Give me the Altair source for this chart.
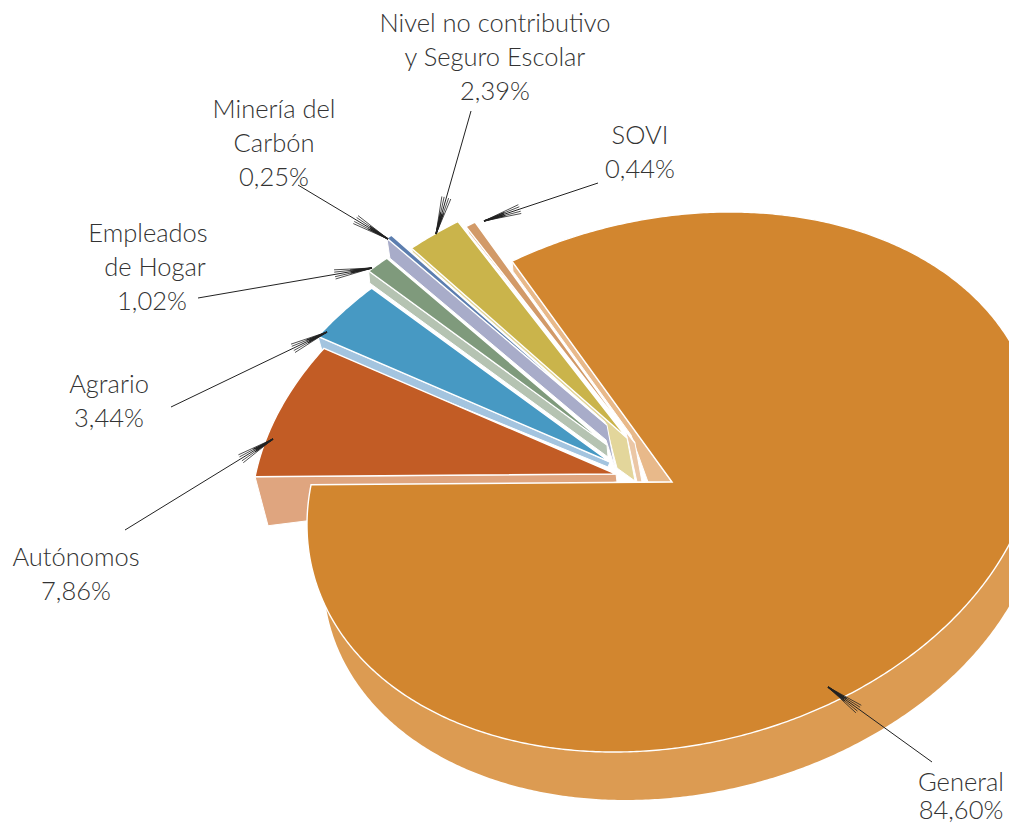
import math
import altair as alt

# ---- data ----
names = ["General", "Autónomos", "Agrario", "Empleados de Hogar", "Minería del Carbón",
         "Nivel no contributivo y Seguro Escolar", "SOVI"]
shares = [84.60, 7.86, 3.44, 1.02, 0.25, 2.39, 0.44]
label_lines = [["General"], ["Autónomos"], ["Agrario"], ["Empleados", "de Hogar"], ["Minería del", "Carbón"],
               ["Nivel no contributivo", "y Seguro Escolar"], ["SOVI"]]
top_colors = ["#D2862F", "#C25C25", "#4799C3", "#7F9A7C", "#5C7EAF", "#CAB44B", "#D29A68"]
side_colors = ["#E8B98A", "#DFA57F", "#A3C4DF", "#B5C3B2", "#A8ACC9", "#E3D69B", "#EBC7A6"]
body_color = "#DC9B52"

# ---- drawing geometry (page pixels; the page margin is removed below) ----
MARGIN = 8
AX, AY, BY = 365.0, -42.9, 266.6       # tilted-ellipse axes
START = 244.0 - 360.0                  # angle where "General" starts
apex = [(672, 482), (616, 474), (610, 462), (607, 445), (607, 425), (627, 438), (635, 443)]
rim_drop = [(1, 10), (13, 49), (4, 14), (1, 12), (3, 20), (1, 4), (3, 7)]
inner = [[(648, 482), (631, 435)], [(617, 482)], [(608, 467)], [(608, 457)],
         [(615, 468), (606, 440)], [(635, 481), (617, 468), (605, 422)],
         [(642, 482), (637, 482), (625, 428)]]
body_center, body_scale = (683, 534), 0.985
body_arc = (-30, 185)
body_inner = (700, 600)

label_pos = [[(961, 783), (961, 811)], [(76, 558), (76, 592)], [(109, 385), (109, 419)],
             [(148, 234), (155, 268), (152, 302)], [(274, 110), (274, 144), (274, 178)],
             [(495, 24), (495, 58), (495, 92)], [(640, 136), (640, 170)]]
arrow_tail = [(932, 762), (125, 530), (171, 407), (198, 298), (298, 185), (471, 111), (598, 183)]
arrow_tip = [(828, 687), (273, 439), (327, 332), (372, 268), (388, 239), (436, 234), (484, 221)]
# feathered arrow heads: (angle, length, width) of each stroke from the tip
BARBS = [(-7, 38, 0.8), (-3.5, 38, 0.8), (3.5, 38, 0.8), (7, 38, 0.8),
         (-4, 22, 1.3), (0, 20, 1.6), (4, 22, 1.3)]


def px(p):
    return [round(p[0] - MARGIN, 2), round(p[1] - MARGIN, 2)]


def ell(t, c, s=1.0):
    r = math.radians(t)
    u, v = math.cos(r), math.sin(r)
    return (c[0] + s * AX * u, c[1] + s * (AY * u + BY * v))


def arc(t0, t1, c, s=1.0):
    n = max(2, int(abs(t1 - t0) * 2))
    return [ell(t0 + (t1 - t0) * i / n, c, s) for i in range(n + 1)]


def feature(pts, fill, sw=1.2):
    ring = [px(p) for p in pts]
    ring.append(ring[0])
    return {"type": "Feature", "geometry": {"type": "Polygon", "coordinates": [ring]},
            "properties": {"fill": fill, "sw": sw}}


# angular ranges
ranges, t = [], START
for v in shares:
    ranges.append((t, t + v * 3.6))
    t += v * 3.6


def side(i):
    t0 = ranges[i][0]
    rim = ell(t0, apex[i])
    d = rim_drop[i]
    return feature([rim, apex[i]] + inner[i] + [(rim[0] + d[0], rim[1] + d[1])], side_colors[i], 1.0)


def top(i):
    return feature([apex[i]] + arc(ranges[i][0], ranges[i][1], apex[i]), top_colors[i], 1.4)


features = [side(0)]
for i in [6, 5, 4, 3, 2, 1]:
    features += [side(i), top(i)]
features.append(feature(arc(body_arc[0], body_arc[1], body_center, body_scale) + [body_inner], body_color, 0))
features.append(top(0))

# labels
text_rows = []
for lines, pos, v in zip(label_lines, label_pos, shares):
    all_lines = lines + [f"{v:.2f}".replace(".", ",") + "%"]
    for s, p in zip(all_lines, pos):
        text_rows.append({"x": p[0] - MARGIN, "y": p[1] - MARGIN, "t": s})

# leader arrows
line_rows = []
for k, (a, b) in enumerate(zip(arrow_tail, arrow_tip)):
    line_rows += [{"x": px(a)[0], "y": px(a)[1], "id": f"m{k}", "o": 0, "w": 1.0},
                  {"x": px(b)[0], "y": px(b)[1], "id": f"m{k}", "o": 1, "w": 1.0}]
    base = math.atan2(a[1] - b[1], a[0] - b[0])
    for j, (ang, ln, w) in enumerate(BARBS):
        th = base + math.radians(ang)
        e = (b[0] + ln * math.cos(th), b[1] + ln * math.sin(th))
        line_rows += [{"x": px(e)[0], "y": px(e)[1], "id": f"b{k}{j}", "o": 0, "w": w},
                      {"x": px(b)[0], "y": px(b)[1], "id": f"b{k}{j}", "o": 1, "w": w}]

pie = alt.Chart(alt.Data(values=features)).mark_geoshape().encode(
    fill=alt.Fill("properties.fill:N", scale=None),
    stroke=alt.value("#ffffff"),
    strokeWidth=alt.StrokeWidth("properties.sw:Q", scale=None),
).project(type="identity", scale=1, translate=[0, 0])

lines = alt.Chart(alt.Data(values=line_rows)).mark_line(color="#222222").encode(
    x=alt.X("x:Q", scale=None, axis=None),
    y=alt.Y("y:Q", scale=None, axis=None),
    detail="id:N",
    order="o:Q",
    strokeWidth=alt.StrokeWidth("w:Q", scale=None),
)

labels = alt.Chart(alt.Data(values=text_rows)).mark_text(
    font="Lato", fontWeight=300, fontSize=25.5, color="#333333", align="center", baseline="middle"
).encode(
    x=alt.X("x:Q", scale=None, axis=None),
    y=alt.Y("y:Q", scale=None, axis=None),
    text="t:N",
)

chart = alt.layer(pie, lines, labels).resolve_scale(x="independent", y="independent").properties(
    width=1001, height=817, padding=0, autosize="none"
).configure_view(stroke=None)

chart.save("out.html", embed_options={"renderer": "svg", "actions": False})
